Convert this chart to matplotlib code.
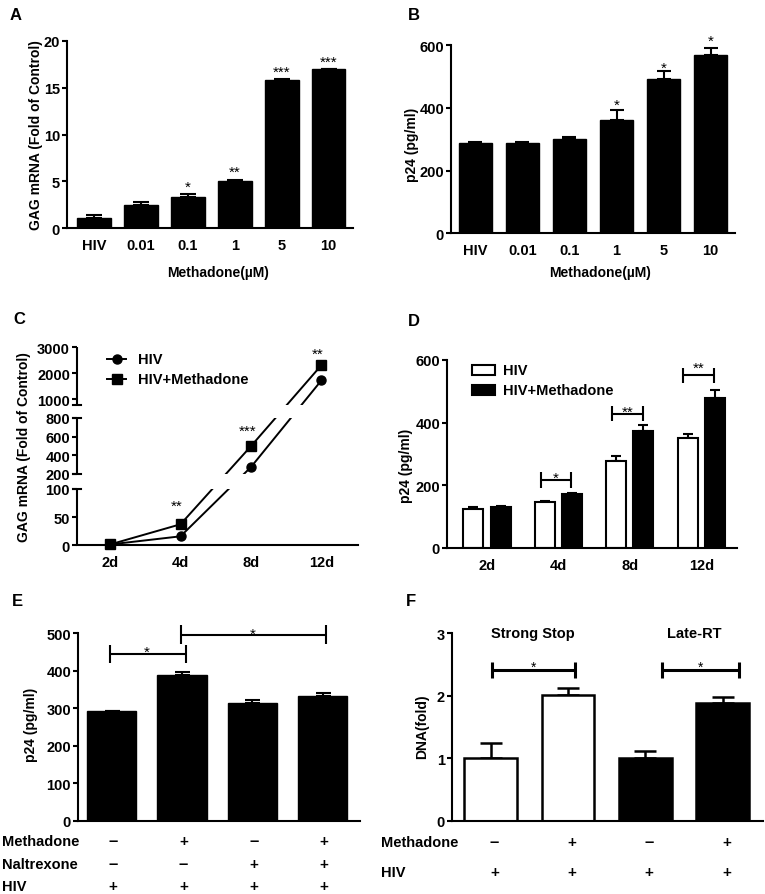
import numpy as np
import matplotlib
matplotlib.use('Agg')
import matplotlib.pyplot as plt
from matplotlib.patches import Rectangle
from matplotlib.transforms import blended_transform_factory as btf

plt.rcParams['font.family'] = ['Liberation Sans', 'DejaVu Sans']
plt.rcParams['font.weight'] = 'bold'
plt.rcParams['axes.labelweight'] = 'bold'

# ---------------- data ----------------
a_labels = ['HIV', '0.01', '0.1', '1', '5', '10']
a_vals = [1.15, 2.5, 3.3, 5.0, 15.8, 16.98]
a_err = [0.25, 0.33, 0.36, 0.2, 0.1, 0.03]
a_stars = ['', '', '*', '**', '***', '***']
a_star_y = [0, 0, 4.9, 6.5, 17.2, 18.3]

b_labels = ['HIV', '0.01', '0.1', '1', '5', '10']
b_vals = [287, 287, 300, 362, 492, 568]
b_err = [5, 5, 8, 31, 26, 24]
b_stars = ['', '', '', '*', '*', '*']
b_star_y = [0, 0, 0, 425, 542, 628]

c_days = ['2d', '4d', '8d', '12d']
c_hiv = [1, 15.5, 274, 1714]
c_meth = [1, 37, 498, 2300]
c_stars = ['', '**', '***', '**']
c_star_y = [0, 79, 717, 2920]

d_days = ['2d', '4d', '8d', '12d']
d_hiv = [126, 147, 277, 351]
d_hiv_err = [4, 2, 18, 12]
d_meth = [131, 171, 373, 479]
d_meth_err = [3, 4, 20, 26]
d_stars = ['', '*', '**', '**']
d_bracket_y = [0, 217, 428, 552]
d_star_y = [0, 241, 449, 590]

e_vals = [292, 389, 315, 333]
e_err = [0, 6, 8, 8]
e_methadone = ['–', '+', '–', '+']
e_naltrexone = ['–', '–', '+', '+']
e_hiv = ['+', '+', '+', '+']
e_brackets = [(0, 1, 443, 462), (1, 3, 496, 512)]

f_vals = [1.0, 2.016, 1.0, 1.89]
f_err = [0.24, 0.1, 0.11, 0.09]
f_groups = ['Strong Stop', 'Late-RT']
f_methadone = ['–', '+', '–', '+']
f_hiv = ['+', '+', '+', '+']
f_brackets = [(0, 1, 2.41, 2.52), (2, 3, 2.41, 2.52)]

# ---------------- figure ----------------
W, H = 765, 895
fig = plt.figure(figsize=(W / 100, H / 100), dpi=100)
TICK = 10.5
LAB = 10


def rect(l, t, r, b):
    return [l / W, 1 - b / H, (r - l) / W, (b - t) / H]


def style(ax):
    for s in ['top', 'right']:
        ax.spines[s].set_visible(False)
    for s in ['left', 'bottom']:
        ax.spines[s].set_linewidth(1.5)
    ax.tick_params(axis='y', length=3.5, width=1.5, pad=1.5, labelsize=TICK)
    ax.tick_params(axis='x', length=0, pad=7, labelsize=TICK)


def star(ax, x, y, s, size=11):
    ax.annotate(s, (x, y), xytext=(0, -6.4 * size / 11), textcoords='offset points',
                ha='center', va='baseline', fontweight='normal', fontsize=size,
                annotation_clip=False)


def bracket(ax, x1, x2, y, h, lw):
    kw = dict(color='k', lw=lw, clip_on=False, solid_capstyle='butt')
    ax.plot([x1, x2], [y, y], **kw)
    ax.plot([x1, x1], [y - h, y + h], **kw)
    ax.plot([x2, x2], [y - h, y + h], **kw)


def ylab(ax, text, x, y=0.5):
    ax.set_ylabel(text, fontsize=LAB, fontweight='bold')
    ax.yaxis.set_label_coords(x, y)
    ax.yaxis.label.set_va('center')


def errbars(ax, x, v, e, capsize, lw=1.5):
    ax.errorbar(x, v, yerr=[np.zeros(len(e)), e], fmt='none', ecolor='k',
                elinewidth=lw, capsize=capsize, capthick=lw, zorder=1)


def letter(x, y, s):
    fig.text(x / W, 1 - y / H, s, fontsize=12, fontweight='bold', ha='center', va='center')


# ---------------- A ----------------
axA = fig.add_axes(rect(67, 41.7, 353, 229.3))
style(axA)
xa = np.arange(len(a_vals))
axA.bar(xa, a_vals, width=0.72, color='k', edgecolor='k', zorder=2)
errbars(axA, xa, a_vals, a_err, 6)
for i, s in enumerate(a_stars):
    if s:
        star(axA, xa[i], a_star_y[i], s)
axA.set_xlim(-0.57, 5.52)
axA.set_ylim(0, 20)
axA.set_yticks([0, 5, 10, 15, 20])
axA.set_xticks(xa)
axA.set_xticklabels(a_labels)
axA.set_xlabel('Methadone(µM)', fontsize=LAB)
axA.xaxis.set_label_coords(0.528, -0.233)
axA.xaxis.label.set_va('center')
ylab(axA, 'GAG mRNA (Fold of Control)', -0.11)
letter(16, 15.5, 'A')

# ---------------- B ----------------
axB = fig.add_axes(rect(451, 46, 735, 234.3))
style(axB)
xb = np.arange(len(b_vals))
axB.bar(xb, b_vals, width=0.72, color='k', edgecolor='k', zorder=2)
errbars(axB, xb, b_vals, b_err, 5)
for i, s in enumerate(b_stars):
    if s:
        star(axB, xb[i], b_star_y[i], s)
axB.set_xlim(-0.52, 5.52)
axB.set_ylim(0, 600)
axB.set_yticks([0, 200, 400, 600])
axB.set_xticks(xb)
axB.set_xticklabels(b_labels)
axB.set_xlabel('Methadone(µM)', fontsize=LAB)
axB.xaxis.set_label_coords(0.525, -0.205)
axB.xaxis.label.set_va('center')
ylab(axB, 'p24 (pg/ml)', -0.138, 0.474)
letter(414, 15.5, 'B')

# ---------------- C (broken axis) ----------------
axC = fig.add_axes(rect(77, 348, 358, 546))
style(axC)
seg_y = [0, 100, 200, 800, 1000, 3000]
seg_p = [0, 56, 71, 127, 146, 198]
axC.set_yscale('function', functions=(lambda y: np.interp(y, seg_y, seg_p),
                                      lambda p: np.interp(p, seg_p, seg_y)))
axC.set_ylim(0, 3000)
xc = np.arange(len(c_days))
axC.plot(xc, c_hiv, color='k', lw=1.4, marker='o', ms=6.5, zorder=2, clip_on=False)
axC.plot(xc, c_meth, color='k', lw=1.4, marker='s', ms=6.5, zorder=2, clip_on=False)
axC.axhspan(100, 200, color='white', zorder=3, lw=0)
axC.axhspan(800, 937, color='white', zorder=3, lw=0)
axC.spines['left'].set_visible(False)
tr = axC.get_yaxis_transform()
for lo, hi in [(0, 100), (200, 800), (937, 3000)]:
    axC.plot([0, 0], [lo, hi], color='k', lw=1.5, transform=tr, clip_on=False, zorder=6,
             solid_capstyle='butt')
for yy in [100, 200, 800, 937]:
    axC.plot([-0.013, 0.013], [yy, yy], color='k', lw=1.5, transform=tr, clip_on=False,
             zorder=6)
axC.set_yticks([0, 50, 100, 200, 400, 600, 800, 1000, 2000, 3000])
axC.set_yticklabels(['0', '50', '100', '200', '400', '600', '800', '1000', '2000', '3000'])
axC.yaxis.set_minor_locator(matplotlib.ticker.NullLocator())
axC.set_xticks(xc)
axC.set_xticklabels(c_days)
axC.set_xlim(-0.47, 3.52)
for i, s in enumerate(c_stars):
    if s:
        star(axC, xc[i] - 0.05, c_star_y[i], s)
# legend
for yy, mk, lab in [(0.939, 'o', 'HIV'), (0.838, 's', 'HIV+Methadone')]:
    axC.plot([0.107, 0.175], [yy, yy], color='k', lw=1.4, transform=axC.transAxes,
             clip_on=False, zorder=7)
    axC.plot([0.141], [yy], color='k', marker=mk, ms=6.5, transform=axC.transAxes,
             clip_on=False, zorder=7)
    axC.text(0.217, yy, lab, transform=axC.transAxes, fontsize=LAB + 0.5, va='center',
             ha='left', zorder=7)
ylab(axC, 'GAG mRNA (Fold of Control)', -0.19)
letter(19, 320, 'C')

# ---------------- D ----------------
axD = fig.add_axes(rect(447, 361, 737, 549))
style(axD)
xd = np.arange(len(d_days))
axD.bar(xd - 0.19, d_hiv, width=0.28, color='white', edgecolor='k', lw=1.5, zorder=2)
axD.bar(xd + 0.19, d_meth, width=0.28, color='k', edgecolor='k', lw=1.5, zorder=2)
errbars(axD, xd - 0.19, d_hiv, d_hiv_err, 3.8)
errbars(axD, xd + 0.19, d_meth, d_meth_err, 3.8)
for i, s in enumerate(d_stars):
    if s:
        bracket(axD, xd[i] - 0.25, xd[i] + 0.18, d_bracket_y[i], 24, 1.5)
        star(axD, xd[i] - 0.035, d_star_y[i], s)
axD.set_xlim(-0.56, 3.5)
axD.set_ylim(0, 600)
axD.set_yticks([0, 200, 400, 600])
axD.set_xticks(xd)
axD.set_xticklabels(d_days)
for yy, fc, lab in [(0.92, 'white', 'HIV'), (0.814, 'k', 'HIV+Methadone')]:
    axD.add_patch(Rectangle((0.086, yy), 0.079, 0.053, transform=axD.transAxes,
                            facecolor=fc, edgecolor='k', lw=1.5, clip_on=False))
    axD.text(0.193, yy + 0.026, lab, transform=axD.transAxes, fontsize=LAB + 0.5,
             va='center', ha='left')
ylab(axD, 'p24 (pg/ml)', -0.142, 0.443)
letter(414, 321, 'D')

# ---------------- E ----------------
axE = fig.add_axes(rect(78, 634, 360, 822))
style(axE)
xe = np.arange(len(e_vals))
axE.bar(xe, e_vals, width=0.7, color='k', edgecolor='k', zorder=2)
errbars(axE, xe, e_vals, e_err, 5.4)
for x1, x2, yy, sy in e_brackets:
    bracket(axE, x1 - 0.02, x2 + 0.05, yy, 24, 1.5)
    star(axE, (x1 + x2) / 2, sy, '*')
axE.set_xlim(-0.48, 3.53)
axE.set_ylim(0, 500)
axE.set_yticks([0, 100, 200, 300, 400, 500])
axE.set_xticks([])
ylab(axE, 'p24 (pg/ml)', -0.168, 0.516)
btE = btf(axE.transData, fig.transFigure)
for row, ypx, lab in [(e_methadone, 842, 'Methadone'), (e_naltrexone, 865, 'Naltrexone'),
                      (e_hiv, 887, 'HIV')]:
    fig.text(2 / W, 1 - ypx / H, lab, fontsize=LAB + 0.5, ha='left', va='center')
    for i, s in enumerate(row):
        axE.text(xe[i] + 0.02, 1 - ypx / H, s, transform=btE, ha='center', va='center',
                 fontsize=12 if s == '–' else 11, clip_on=False)
letter(17, 601, 'E')

# ---------------- F ----------------
axF = fig.add_axes(rect(452, 634, 763, 822))
style(axF)
xf = np.arange(len(f_vals))
axF.bar(xf[:2], f_vals[:2], width=0.68, color='white', edgecolor='k', lw=1.8, zorder=2)
axF.bar(xf[2:], f_vals[2:], width=0.68, color='k', edgecolor='k', lw=1.8, zorder=2)
errbars(axF, xf, f_vals, f_err, 8, lw=1.8)
for x1, x2, yy, sy in f_brackets:
    lo = x1 + (0.02 if x1 == 0 else 0.21)
    hi = x2 + (0.09 if x1 == 0 else 0.21)
    bracket(axF, lo, hi, yy, 0.125, 2.2)
    star(axF, (lo + hi) / 2, sy, '*', 10)
axF.text(0.54, 3.0, f_groups[0], ha='center', va='center', fontsize=LAB + 0.5)
axF.text(2.63, 3.0, f_groups[1], ha='center', va='center', fontsize=LAB + 0.5)
axF.set_xlim(-0.5, 3.52)
axF.set_ylim(0, 3)
axF.set_yticks([0, 1, 2, 3])
axF.set_xticks([])
ylab(axF, 'DNA(fold)', -0.096, 0.508)
btF = btf(axF.transData, fig.transFigure)
for row, ypx, lab in [(f_methadone, 843, 'Methadone'), (f_hiv, 873, 'HIV')]:
    fig.text(381 / W, 1 - ypx / H, lab, fontsize=LAB + 0.5, ha='left', va='center')
    for i, s in enumerate(row):
        axF.text(xf[i] + 0.05, 1 - ypx / H, s, transform=btF, ha='center', va='center',
                 fontsize=12 if s == '–' else 11, clip_on=False)
letter(411, 602, 'F')

fig.savefig('out.png', dpi=100)
